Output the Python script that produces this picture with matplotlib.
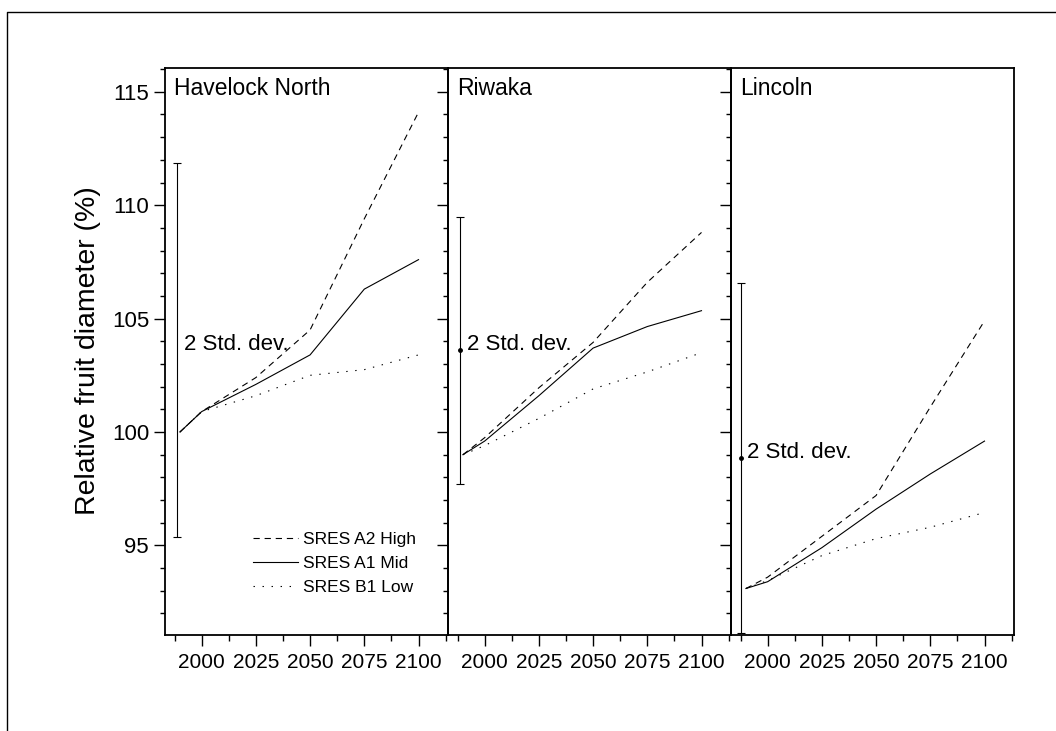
import matplotlib
matplotlib.use("Agg")
import matplotlib.pyplot as plt
from matplotlib.lines import Line2D
from matplotlib.ticker import MultipleLocator

plt.rcParams["font.family"] = ["Liberation Sans", "DejaVu Sans"]
plt.rcParams["lines.scale_dashes"] = False

# ===== 数据 =====
YEARS = [1990, 2000, 2025, 2050, 2075, 2100]
SITES = ["Havelock North", "Riwaka", "Lincoln"]

HAVELOCK_A2 = [100.0, 100.9, 102.4, 104.5, 109.4, 114.1]
HAVELOCK_A1 = [100.0, 100.9, 102.1, 103.4, 106.3, 107.6]
HAVELOCK_B1 = [100.0, 100.9, 101.6, 102.5, 102.75, 103.4]

RIWAKA_A2 = [99.0, 99.75, 101.95, 103.95, 106.6, 108.8]
RIWAKA_A1 = [99.0, 99.6, 101.6, 103.7, 104.65, 105.35]
RIWAKA_B1 = [99.0, 99.4, 100.6, 101.9, 102.65, 103.5]

LINCOLN_A2 = [93.1, 93.6, 95.4, 97.2, 101.1, 104.9]
LINCOLN_A1 = [93.1, 93.4, 94.9, 96.6, 98.15, 99.6]
LINCOLN_B1 = [93.1, 93.45, 94.55, 95.3, 95.8, 96.45]

# 2 倍标准差误差棒：年份位置、中心值、半宽
SD_YEAR = [1988.6, 1988.5, 1987.5]
SD_CENTER = [103.6, 103.6, 98.85]
SD_HALF = [8.25, 5.9, 7.7]
SD_DOT = [False, True, True]

SCENARIOS = ["SRES A2 High", "SRES A1 Mid", "SRES B1 Low"]
SITE_DATA = [
    (HAVELOCK_A2, HAVELOCK_A1, HAVELOCK_B1),
    (RIWAKA_A2, RIWAKA_A1, RIWAKA_B1),
    (LINCOLN_A2, LINCOLN_A1, LINCOLN_B1),
]

LINE_STYLES = [(0, (4.5, 3.5)), "-", (0, (1.0, 5.5))]

W, H = 1056, 731
fig = plt.figure(figsize=(W / 100, H / 100), dpi=100)

# 外框（只看得到上边和左边）
fig.add_artist(Line2D([7 / W, 7 / W, 1.0], [0.0, 1 - 12 / H, 1 - 12 / H],
                      transform=fig.transFigure, color="black", lw=1.0))

panel_left = [165, 448, 731]
panel_w = 283
bottom = 1 - 635 / H
height = 567 / H

axes = []
for i, site in enumerate(SITES):
    ax = fig.add_axes([panel_left[i] / W, bottom, panel_w / W, height])
    axes.append(ax)
    a2, a1, b1 = SITE_DATA[i]
    for vals, ls, lab in zip((a2, a1, b1), LINE_STYLES, SCENARIOS):
        ax.plot(YEARS, vals, color="black", lw=0.8, linestyle=ls, label=lab)

    ax.errorbar([SD_YEAR[i]], [SD_CENTER[i]], yerr=[SD_HALF[i]],
                fmt="o" if SD_DOT[i] else "none", ms=2.5, color="black",
                ecolor="black", elinewidth=0.8, capsize=3, capthick=0.8)
    ax.text(SD_YEAR[i] + 3.2, SD_CENTER[i] + 0.25, "2 Std. dev.", fontsize=16,
            ha="left", va="center")

    ax.text(0.032, 0.963, site, transform=ax.transAxes, fontsize=16.5,
            ha="left", va="center")

    ax.set_xlim(1983.1, 2113.6)
    ax.set_ylim(91.05, 116.05)
    ax.xaxis.set_minor_locator(MultipleLocator(12.5))
    ax.set_xticks([2000, 2025, 2050, 2075, 2100])
    ax.yaxis.set_major_locator(MultipleLocator(5))
    ax.yaxis.set_minor_locator(MultipleLocator(1))
    ax.tick_params(axis="x", which="major", direction="out", length=8,
                   width=1.0, labelsize=15, pad=5)
    ax.tick_params(axis="x", which="minor", direction="out", length=4.5, width=1.0)
    ax.tick_params(axis="y", which="major", direction="out", length=8,
                   width=1.0, labelsize=16, pad=3.5)
    ax.tick_params(axis="y", which="minor", direction="out", length=3.5, width=1.0)
    if i > 0:
        ax.tick_params(axis="y", labelleft=False)
    for sp in ax.spines.values():
        sp.set_linewidth(1.3)
    ax.patch.set_alpha(0)

axes[0].legend(loc="center left", bbox_to_anchor=(0.31, 0.126), frameon=False,
               fontsize=12.5, handlelength=2.6, handletextpad=0.3,
               labelspacing=0.5, borderpad=0, borderaxespad=0)

fig.text(88 / W, 1 - 351 / H, "Relative fruit diameter (%)", rotation=90,
         fontsize=20.5, ha="center", va="center")

fig.savefig("out.png", dpi=100)
